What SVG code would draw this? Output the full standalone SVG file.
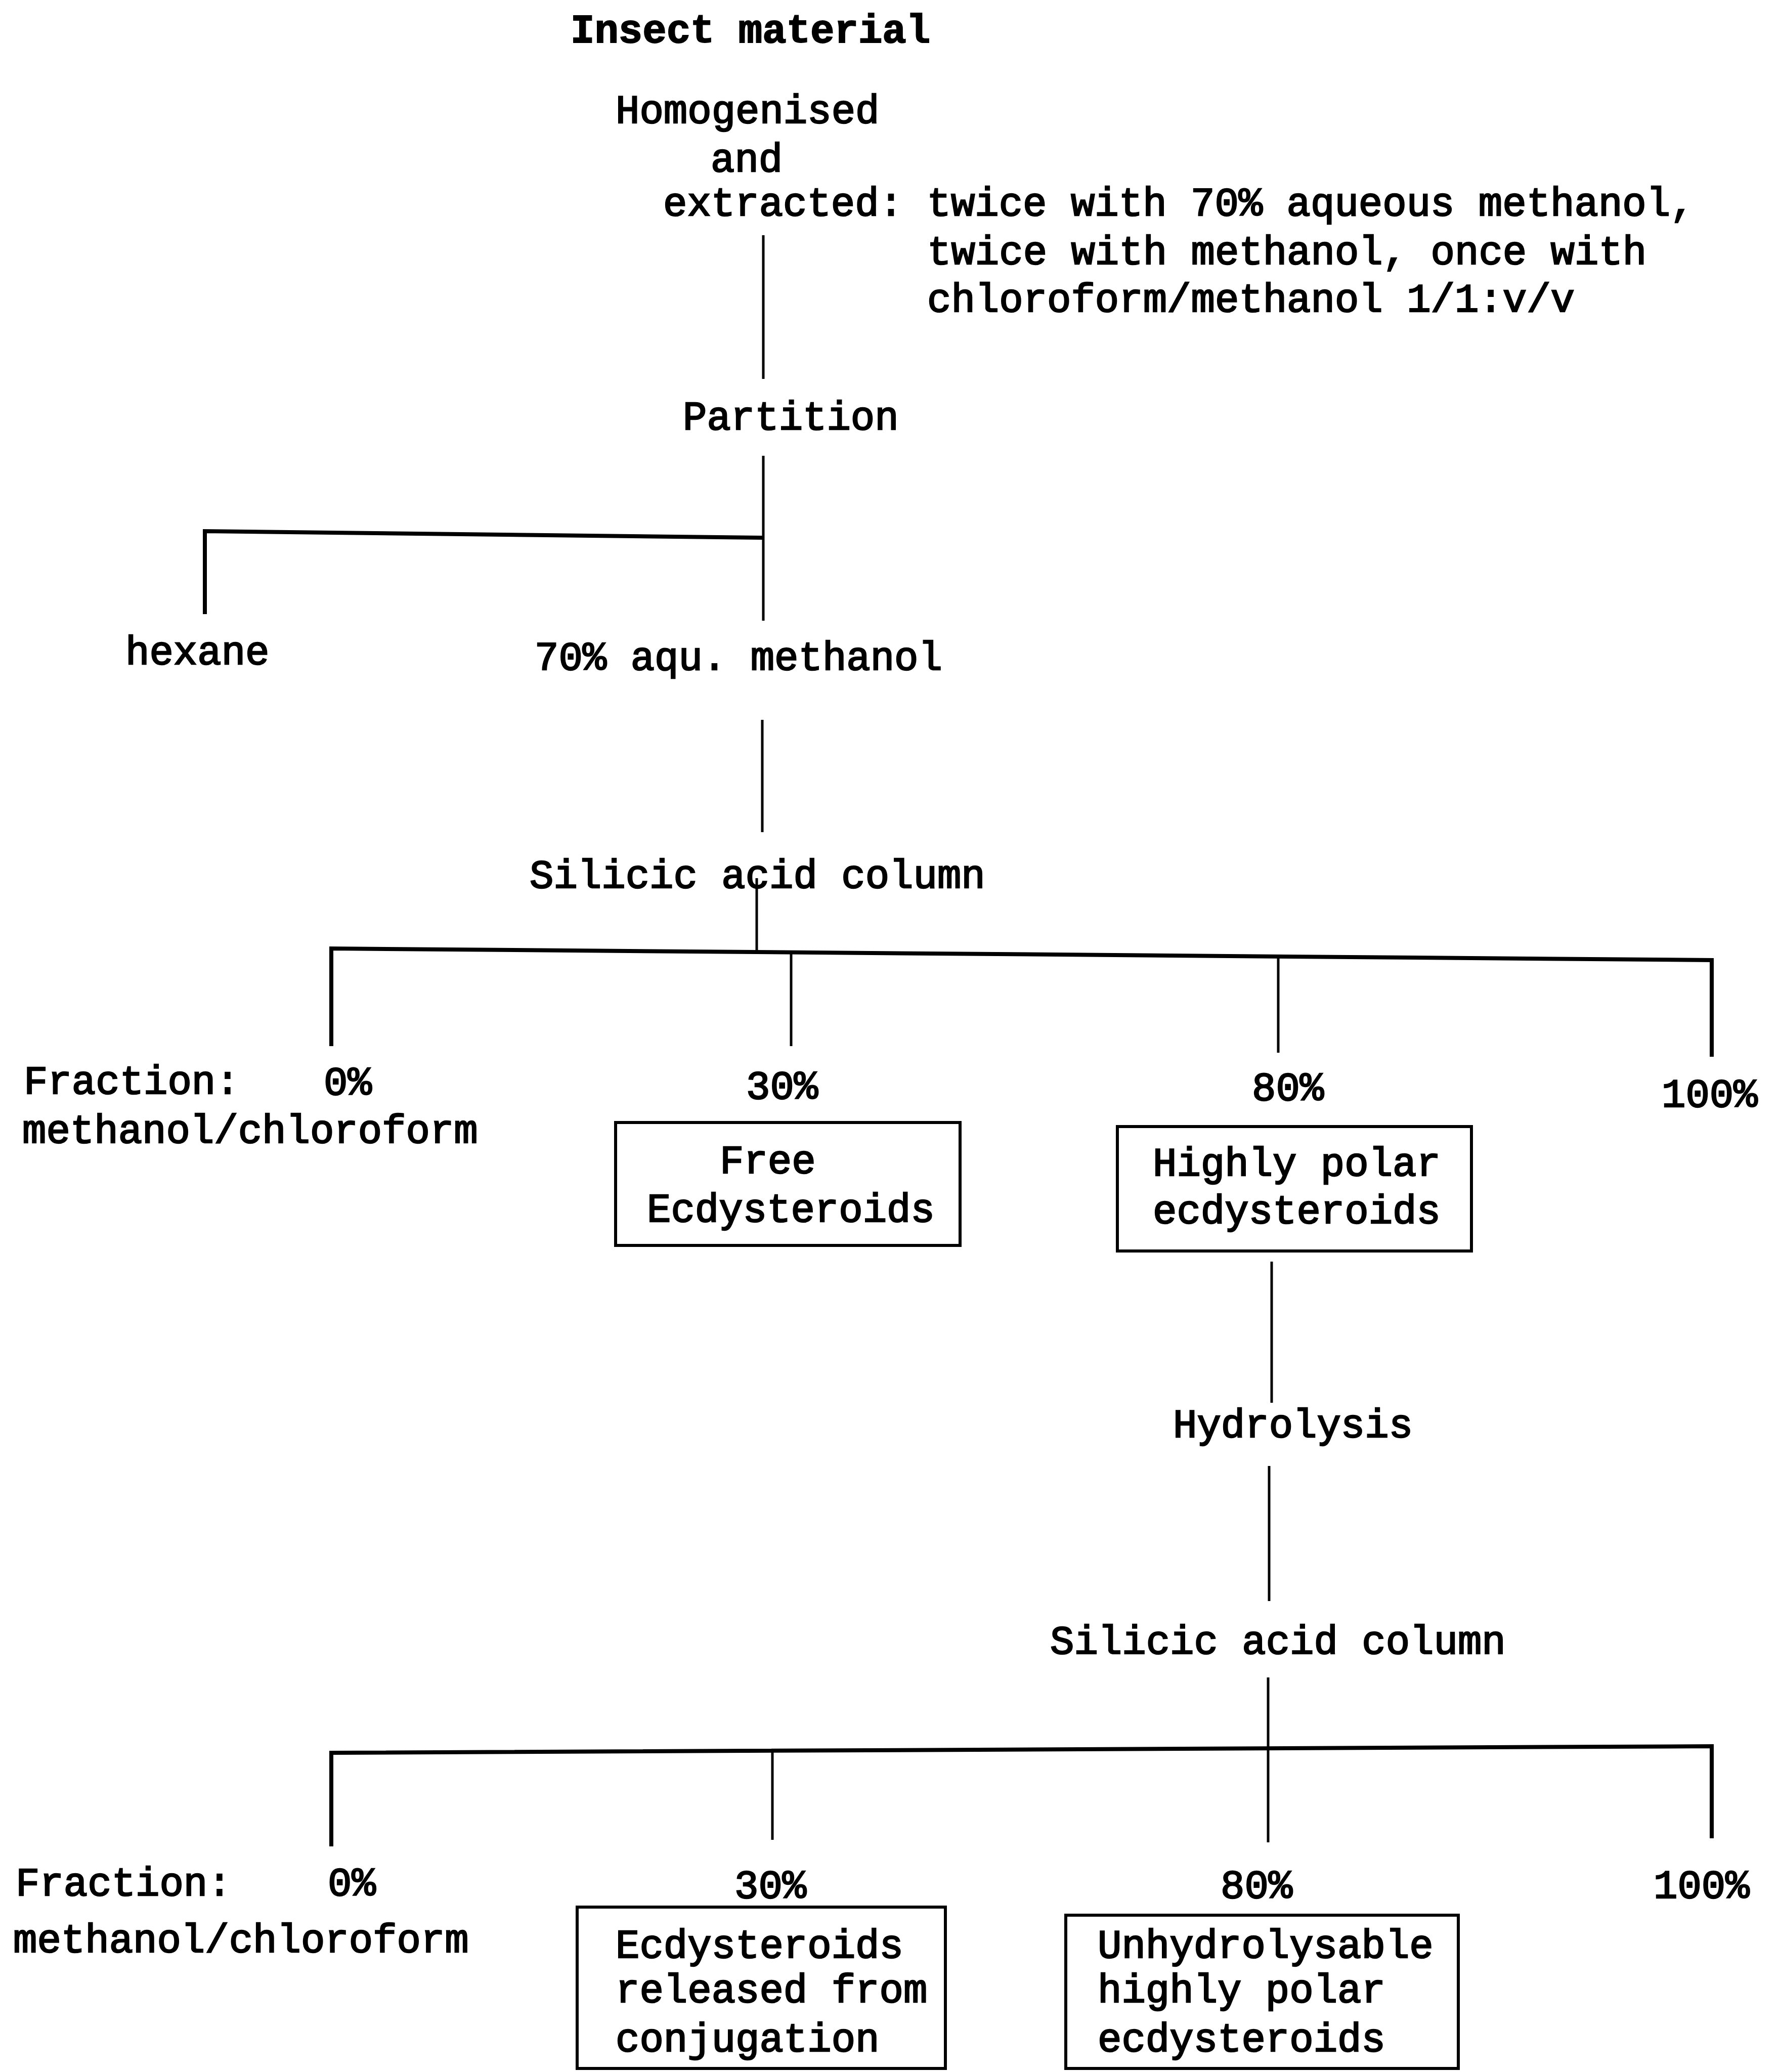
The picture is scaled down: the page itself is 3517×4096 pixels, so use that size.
<svg xmlns="http://www.w3.org/2000/svg" width="3517" height="4096" viewBox="0 0 3517 4096">
<style>
text{font-family:"Liberation Mono","Courier New",monospace;font-size:79px;fill:#000;stroke:#000;stroke-width:2.5}
.b{font-weight:bold;stroke-width:2}
.ln{stroke:#000;stroke-width:5;fill:none;stroke-linecap:butt}
.hz{stroke:#000;stroke-width:8;fill:none}
.box{stroke:#000;stroke-width:6;fill:none}
</style>
<rect width="3517" height="4096" fill="#fff"/>
<g id="connectors">
<line class="ln" x1="1509" y1="465" x2="1509" y2="749"/>
<line class="ln" x1="1509" y1="901" x2="1509" y2="1227"/>
<polyline class="hz" points="405,1214 405,1050 1509,1063"/>
<line class="ln" x1="1507" y1="1423" x2="1507" y2="1645"/>
<line class="ln" x1="1496" y1="1736" x2="1496" y2="1880"/>
<polyline class="hz" points="655,2068 655,1875 3384,1898 3384,2089"/>
<line class="ln" x1="1564" y1="1880" x2="1564" y2="2068"/>
<line class="ln" x1="2527" y1="1890" x2="2527" y2="2081"/>
<line class="ln" x1="2514" y1="2494" x2="2514" y2="2773"/>
<line class="ln" x1="2509" y1="2898" x2="2509" y2="3165"/>
<line class="ln" x1="2507" y1="3316" x2="2507" y2="3642"/>
<polyline class="hz" points="655,3650 655,3465 3384,3452 3384,3634"/>
<line class="ln" x1="1527" y1="3463" x2="1527" y2="3637"/>
</g>
<g id="insect"><text class="b" x="1128" y="84">Insect material</text></g>
<g id="homogenised">
<text x="1217" y="243">Homogenised</text>
<text x="1405" y="339">and</text>
<text x="1311" y="426">extracted: twice with 70% aqueous methanol,</text>
<text x="1833" y="522">twice with methanol, once with</text>
<text x="1833" y="616">chloroform/methanol 1/1:v/v</text>
</g>
<g id="partition"><text x="1350" y="849">Partition</text></g>
<g id="hexane"><text x="248" y="1313">hexane</text></g>
<g id="aqmethanol"><text x="1057" y="1324">70% aqu. methanol</text></g>
<g id="silicic1"><text x="1047" y="1755">Silicic acid column</text></g>
<g id="fraction1">
<text x="47" y="2162">Fraction:</text>
<text x="44" y="2259">methanol/chloroform</text>
</g>
<g id="f1-0"><text x="640" y="2164">0%</text></g>
<g id="f1-30"><text x="1475" y="2172">30%</text></g>
<g id="f1-80"><text x="2475" y="2175">80%</text></g>
<g id="f1-100"><text x="3285" y="2188">100%</text></g>
<g id="free">
<rect class="box" x="1217" y="2219" width="681" height="243"/>
<text x="1423" y="2319">Free</text>
<text x="1279" y="2415">Ecdysteroids</text>
</g>
<g id="highlypolar">
<rect class="box" x="2209" y="2227" width="700" height="246"/>
<text x="2279" y="2324">Highly polar</text>
<text x="2279" y="2418">ecdysteroids</text>
</g>
<g id="hydrolysis"><text x="2319" y="2841">Hydrolysis</text></g>
<g id="silicic2"><text x="2076" y="3269">Silicic acid column</text></g>
<g id="fraction2">
<text x="31" y="3747">Fraction:</text>
<text x="26" y="3859">methanol/chloroform</text>
</g>
<g id="f2-0"><text x="648" y="3747">0%</text></g>
<g id="f2-30"><text x="1452" y="3752">30%</text></g>
<g id="f2-80"><text x="2413" y="3752">80%</text></g>
<g id="f2-100"><text x="3269" y="3752">100%</text></g>
<g id="released">
<rect class="box" x="1141" y="3770" width="728" height="319"/>
<text x="1217" y="3870">Ecdysteroids</text>
<text x="1217" y="3958">released from</text>
<text x="1217" y="4055">conjugation</text>
</g>
<g id="unhydrolysable">
<rect class="box" x="2107" y="3786" width="776" height="303"/>
<text x="2170" y="3870">Unhydrolysable</text>
<text x="2170" y="3958">highly polar</text>
<text x="2170" y="4055">ecdysteroids</text>
</g>
</svg>
